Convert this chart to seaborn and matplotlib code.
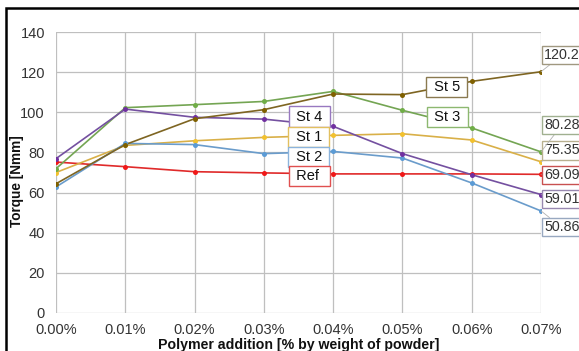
import matplotlib
matplotlib.use("Agg")
import matplotlib.pyplot as plt
from matplotlib.patches import Rectangle
import numpy as np
import pandas as pd
import seaborn as sns

# Polymer addition levels (% by weight of powder)
additions = [0.00, 0.01, 0.02, 0.03, 0.04, 0.05, 0.06, 0.07]
x_tick_labels = ["0.00%", "0.01%", "0.02%", "0.03%", "0.04%", "0.05%", "0.06%", "0.07%"]

# Torque [Nmm] per formulation
torque_ref = [75.2, 72.9, 70.4, 69.8, 69.3, 69.3, 69.3, 69.09]
torque_st1 = [70.0, 83.5, 85.8, 87.5, 88.5, 89.3, 86.2, 75.35]
torque_st2 = [62.8, 84.5, 83.9, 79.4, 80.5, 77.2, 64.8, 50.86]
torque_st3 = [71.9, 102.3, 103.8, 105.4, 110.4, 101.0, 92.2, 80.28]
torque_st4 = [76.9, 101.6, 97.5, 96.6, 93.0, 79.4, 68.9, 59.01]
torque_st5 = [64.4, 83.9, 96.8, 101.3, 109.1, 108.8, 115.4, 120.2]

series_names = ["Ref", "St 1", "St 2", "St 3", "St 4", "St 5"]
series_values = [torque_ref, torque_st1, torque_st2, torque_st3, torque_st4, torque_st5]

line_colors = {
    "Ref": "#E02A2A",
    "St 1": "#D9B048",
    "St 2": "#6A9CCB",
    "St 3": "#74A553",
    "St 4": "#7450A0",
    "St 5": "#7E6522",
}
marker_colors = {
    "Ref": "#F01818",
    "St 1": "#F2C12E",
    "St 2": "#5B9BD5",
    "St 3": "#70AD47",
    "St 4": "#7030A0",
    "St 5": "#7F6000",
}
box_colors = {
    "Ref": "#E05050",
    "St 1": "#E2C060",
    "St 2": "#8CB4DC",
    "St 3": "#8DB870",
    "St 4": "#9878C0",
    "St 5": "#8A7A50",
}
value_box_colors = {
    "Ref": "#C85050",
    "St 1": "#B8B090",
    "St 2": "#98A8C0",
    "St 3": "#A0B090",
    "St 4": "#9888B0",
    "St 5": "#A09880",
}

# Name labels placed in data coordinates
name_label_pos = {
    "St 5": (0.0564, 112.5),
    "St 3": (0.0565, 97.7),
    "St 4": (0.0366, 97.9),
    "St 1": (0.0365, 87.6),
    "St 2": (0.0365, 77.6),
    "Ref": (0.0366, 68.3),
}
# Vertical offset (pixels) of end-value labels from the last point
value_label_dy = {
    "St 5": 16.5,
    "St 3": 26.7,
    "St 1": 11.3,
    "Ref": -0.4,
    "St 4": -4.6,
    "St 2": -16.3,
}

df = pd.DataFrame({
    "addition": np.tile(additions, len(series_names)),
    "torque": np.concatenate(series_values),
    "series": np.repeat(series_names, len(additions)),
})

sns.set_theme(style="white")
plt.rcParams["font.family"] = ["Liberation Sans", "DejaVu Sans"]

fig = plt.figure(figsize=(5.79, 3.51), dpi=100)
ax = fig.add_axes([56 / 579, 1 - 313 / 351, 485 / 579, 281 / 351])

sns.lineplot(data=df, x="addition", y="torque", hue="series",
             palette=line_colors, hue_order=series_names,
             linewidth=1.2, legend=False, ax=ax, sort=False)

# Markers drawn on top in slightly different shades
for name, vals in zip(series_names, series_values):
    ax.plot(additions, vals, linestyle="none", marker="o", markersize=3.6,
            markerfacecolor=marker_colors[name], markeredgewidth=0, zorder=3)

ax.set_xlim(0, 0.07)
ax.set_ylim(0, 140)
ax.set_xticks(additions)
ax.set_xticklabels(x_tick_labels)
ax.set_yticks(np.arange(0, 141, 20))
ax.grid(True, color="#BFBFBF", linewidth=0.9)
ax.set_axisbelow(True)
for side in ["left", "bottom", "top", "right"]:
    ax.spines[side].set_visible(False)
ax.tick_params(axis="both", length=0, labelsize=10.5, colors="#333333")
ax.tick_params(axis="y", pad=8)
ax.tick_params(axis="x", pad=7)

ax.set_xlabel("Polymer addition [% by weight of powder]", fontsize=10.2,
              fontweight="bold", color="#111111")
ax.set_ylabel("Torque [Nmm]", fontsize=9.8, fontweight="bold", color="#111111")
ax.xaxis.set_label_coords(0.5, -0.088)
ax.yaxis.set_label_coords(-0.066, 0.47)

# Series name labels
for name, (lx, ly) in name_label_pos.items():
    ax.text(lx, ly, " " + name + " " if name != "Ref" else " " + name + "  ",
            ha="center", va="center", fontsize=10.5, color="#111111",
            bbox=dict(boxstyle="square,pad=0.22", fc="white",
                      ec=box_colors[name], lw=1.0), zorder=5)

# End values with leader lines
for name, vals in zip(series_names, series_values):
    last = vals[-1]
    ax.annotate(f"{last:g}", xy=(additions[-1], last),
                xytext=(3, value_label_dy[name]), textcoords="offset pixels",
                ha="left", va="center", fontsize=10.3, color="#333333",
                annotation_clip=False,
                bbox=dict(boxstyle="square,pad=0.15", fc="white",
                          ec=value_box_colors[name], lw=1.0),
                arrowprops=dict(arrowstyle="-", color="#B0B0B0", lw=0.6,
                                shrinkA=0, shrinkB=0),
                zorder=6)

# Outer frame
fig.patches.append(Rectangle((6 / 579, -0.2), 1.5, 1.2 - 8 / 351,
                             transform=fig.transFigure, fill=False,
                             ec="black", lw=1.8))

fig.savefig("out.png", dpi=100)
